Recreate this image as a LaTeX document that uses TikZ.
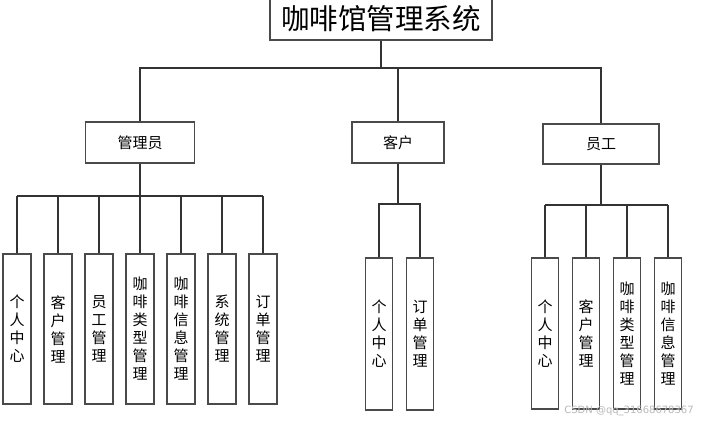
\documentclass[tikz,border=0pt]{standalone}
\usepackage{fontspec}
\setmainfont{Noto Sans CJK SC}
\newfontfamily\wmfont{DejaVu Sans}
\definecolor{boxc}{HTML}{4A4A4A}
\definecolor{linec}{HTML}{333333}
\begin{document}
\begin{tikzpicture}[x=1pt,y=-1pt,
  box/.style={draw=boxc, line width=1.3pt, inner sep=0pt, fill=white},
  leaf/.style={box, minimum width=28pt, align=center, font=\fontsize{15}{18}\selectfont},
  conn/.style={draw=linec, line width=1.2pt}]
\useasboundingbox[fill=white] (0,0) rectangle (720,424);

\node[box, minimum width=222pt, minimum height=42pt, font=\fontsize{28.5}{30}\selectfont] (title) at (381,19) {咖啡馆管理系统};

\node[box, minimum width=109pt, minimum height=41pt, font=\fontsize{15}{16}\selectfont] (admin) at (140,142.5) {管理员};
\node[box, minimum width=92pt, minimum height=41pt, font=\fontsize{15}{16}\selectfont] (cust) at (398,142.5) {客户};
\node[box, minimum width=116pt, minimum height=40pt, font=\fontsize{15}{16}\selectfont] (emp) at (601,144) {员工};

% admin leaves
\foreach \n/\x/\t in {a1/17/{个\\人\\中\\心}, a2/58/{客\\户\\管\\理}, a3/99/{员\\工\\管\\理}, a4/140/{咖\\啡\\类\\型\\管\\理}, a5/181/{咖\\啡\\信\\息\\管\\理}, a6/222/{系\\统\\管\\理}, a7/263/{订\\单\\管\\理}}
  \node[leaf, minimum height=150pt] (\n) at (\x,329) {\t};

% customer leaves
\foreach \n/\x/\t in {c1/379/{个\\人\\中\\心}, c2/420/{订\\单\\管\\理}}
  \node[leaf, minimum width=27pt, minimum height=152pt] (\n) at (\x,334) {\t};

% employee leaves
\foreach \n/\x/\t in {e1/545/{个\\人\\中\\心}, e2/586/{客\\户\\管\\理}, e3/627/{咖\\啡\\类\\型\\管\\理}, e4/668/{咖\\啡\\信\\息\\管\\理}}
  \node[leaf, minimum width=27pt, minimum height=151pt] (\n) at (\x,333.5) {\t};

% top level connectors
\coordinate (tb) at (381,68);
\draw[conn] (title.south) -- (tb);
\draw[conn] (admin.north) -- (admin.north |- tb) -- (emp.north |- tb) -- (emp.north);
\draw[conn] (cust.north) -- (cust.north |- tb);

% admin bus
\coordinate (ab) at (140,196);
\draw[conn] (admin.south) -- (ab);
\draw[conn] (a1.north |- ab) -- (a7.north |- ab);
\foreach \n in {a1,a2,a3,a4,a5,a6,a7}
  \draw[conn] (\n.north) -- (\n.north |- ab);

% customer bus
\coordinate (cb) at (398,204);
\draw[conn] (cust.south) -- (cb);
\draw[conn] (c1.north) -- (c1.north |- cb) -- (c2.north |- cb) -- (c2.north);

% employee bus
\coordinate (eb) at (601,205);
\draw[conn] (emp.south) -- (eb);
\draw[conn] (e1.north |- eb) -- (e4.north |- eb);
\foreach \n in {e1,e2,e3,e4}
  \draw[conn] (\n.north) -- (\n.north |- eb);

\node[text=gray!55, font=\wmfont\fontsize{10}{12}\selectfont, inner sep=0pt] (wm) at (629,411) {CSDN @qq\_31668678367};
\end{tikzpicture}
\end{document}
